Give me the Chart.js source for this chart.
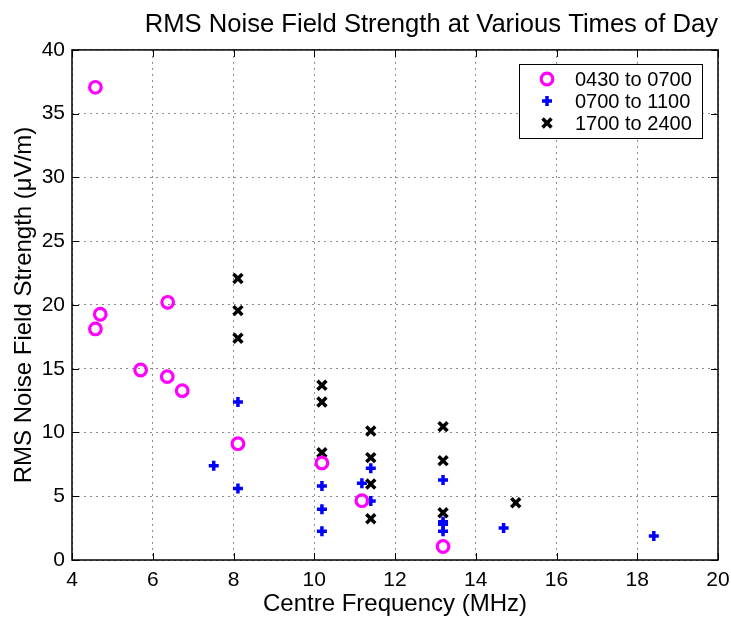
<!DOCTYPE html>
<html>
<head>
<meta charset="utf-8">
<script src="https://cdn.jsdelivr.net/npm/chart.js@4/dist/chart.umd.min.js"></script>
<style>
html,body{margin:0;padding:0;background:#fff;}
#wrap{width:731px;height:619px;position:relative;}
</style>
</head>
<body>
<div id="wrap"><canvas id="c" width="731" height="619"></canvas></div>
<script>
const titleText = 'RMS Noise Field Strength at Various Times of Day';
const xLabel = 'Centre Frequency (MHz)';
const yLabel = 'RMS Noise Field Strength (\u03bcV/m)';
const seriesNames = ['0430 to 0700', '0700 to 1100', '1700 to 2400'];

const xTicks = [4, 6, 8, 10, 12, 14, 16, 18, 20];
const yTicks = [0, 5, 10, 15, 20, 25, 30, 35, 40];

const earlyX = [4.58, 4.70, 4.58, 6.37, 5.70, 6.36, 6.73, 8.11, 10.19, 11.18, 13.19];
const earlyY = [37.07, 19.27, 18.12, 20.21, 14.90, 14.38, 13.28, 9.12, 7.61, 4.65, 1.06];

const morningX = [7.51, 8.11, 8.11, 10.19, 10.19, 10.19, 11.18, 11.40, 11.40, 13.19, 13.19, 13.19, 13.19, 14.69, 18.41];
const morningY = [7.40, 12.39, 5.60, 5.80, 3.97, 2.25, 6.01, 7.19, 4.63, 6.27, 3.00, 2.80, 2.25, 2.51, 1.88];

const eveningX = [8.11, 8.11, 8.11, 10.19, 10.19, 10.19, 11.40, 11.40, 11.40, 11.40, 13.19, 13.19, 13.19, 14.99];
const eveningY = [22.07, 19.56, 17.39, 13.70, 12.39, 8.42, 10.12, 8.03, 5.96, 3.24, 10.46, 7.79, 3.71, 4.49];

const FONT = '"Liberation Sans", Arial, Helvetica, sans-serif';

function pts(xs, ys){ return xs.map((x,i)=>({x:x, y:ys[i]})); }

const framePlugin = {
  id: 'frame',
  afterDraw(chart){
    const ctx = chart.ctx;
    const a = chart.chartArea;
    const xs = chart.scales.x, ys = chart.scales.y;
    ctx.save();
    ctx.strokeStyle = '#000';
    ctx.lineWidth = 1.5;
    ctx.strokeRect(a.left, a.top, a.right - a.left, a.bottom - a.top);
    const tl = 7;
    ctx.lineWidth = 1;
    ctx.beginPath();
    xTicks.forEach(v=>{
      const px = Math.round(xs.getPixelForValue(v)) + 0.5;
      ctx.moveTo(px, a.bottom); ctx.lineTo(px, a.bottom - tl);
      ctx.moveTo(px, a.top); ctx.lineTo(px, a.top + tl);
    });
    yTicks.forEach(v=>{
      const py = Math.round(ys.getPixelForValue(v)) + 0.5;
      ctx.moveTo(a.left, py); ctx.lineTo(a.left + tl, py);
      ctx.moveTo(a.right, py); ctx.lineTo(a.right - tl, py);
    });
    ctx.stroke();

    // legend box
    const bx = 519, by = 64, bw = 183, bh = 74;
    ctx.fillStyle = '#fff';
    ctx.fillRect(bx, by, bw, bh);
    ctx.strokeStyle = '#000';
    ctx.lineWidth = 1;
    ctx.strokeRect(bx + 0.5, by + 0.5, bw, bh);
    ctx.font = '20px ' + FONT;
    ctx.textBaseline = 'middle';
    ctx.textAlign = 'left';
    chart.data.datasets.forEach((ds, i)=>{
      const cy = by + 15 + i * 22;
      const opts = {
        pointStyle: ds.pointStyle,
        radius: ds.pointRadius,
        borderWidth: ds.pointBorderWidth,
        rotation: 0
      };
      ctx.strokeStyle = ds.pointBorderColor;
      ctx.fillStyle = 'rgba(0,0,0,0)';
      ctx.lineWidth = ds.pointBorderWidth;
      if (Chart.helpers && Chart.helpers.drawPoint) {
        Chart.helpers.drawPoint(ctx, opts, 547, cy);
      }
      ctx.fillStyle = '#000';
      ctx.fillText(ds.label, 575, cy + 1);
    });
    ctx.restore();
  }
};

new Chart(document.getElementById('c'), {
  type: 'scatter',
  data: {
    datasets: [
      { label: seriesNames[0], data: pts(earlyX, earlyY), pointStyle: 'circle', pointRadius: 5.8,
        pointBorderWidth: 3.2, pointBorderColor: '#ff00ff', pointBackgroundColor: 'rgba(0,0,0,0)' },
      { label: seriesNames[1], data: pts(morningX, morningY), pointStyle: 'cross', pointRadius: 5,
        pointBorderWidth: 3.5, pointBorderColor: '#0000ff', pointBackgroundColor: '#0000ff' },
      { label: seriesNames[2], data: pts(eveningX, eveningY), pointStyle: 'crossRot', pointRadius: 6.3,
        pointBorderWidth: 3.5, pointBorderColor: '#000000', pointBackgroundColor: '#000000' }
    ]
  },
  options: {
    responsive: false,
    animation: false,
    events: [],
    layout: { padding: { left: 0, right: 13, top: 0, bottom: 0 } },
    plugins: {
      legend: { display: false },
      tooltip: { enabled: false },
      title: {
        display: true, text: titleText, align: 'end', color: '#000',
        font: { family: FONT, size: 25.6, weight: 'normal', lineHeight: 1.2 },
        padding: { top: 9.6, bottom: 9.6 }
      }
    },
    scales: {
      x: {
        type: 'linear', min: 4, max: 20,
        afterBuildTicks: (s) => { s.ticks = xTicks.map(v=>({value:v})); },
        afterFit: (s) => { s.height = 59; s.paddingLeft = 0; s.paddingRight = 0; },
        ticks: { color: '#000', padding: 8, font: { family: FONT, size: 21 }, maxRotation: 0 },
        grid: { color: '#8c8c8c', lineWidth: 1, drawTicks: false },
        border: { display: false, dash: [2, 4] },
        title: { display: true, text: xLabel, color: '#000', padding: { top: 0, bottom: 0 },
          font: { family: FONT, size: 24, lineHeight: 1.2 } }
      },
      y: {
        type: 'linear', min: 0, max: 40,
        afterBuildTicks: (s) => { s.ticks = yTicks.map(v=>({value:v})); },
        afterFit: (s) => { s.width = 72; s.paddingTop = 0; s.paddingBottom = 0; },
        ticks: { color: '#000', padding: 7, font: { family: FONT, size: 21 } },
        grid: { color: '#8c8c8c', lineWidth: 1, drawTicks: false },
        border: { display: false, dash: [2, 4] },
        title: { display: true, text: yLabel, color: '#000', padding: { top: 10, bottom: 0 },
          font: { family: FONT, size: 24, lineHeight: 1.2 } }
      }
    }
  },
  plugins: [framePlugin]
});
</script>
</body>
</html>
